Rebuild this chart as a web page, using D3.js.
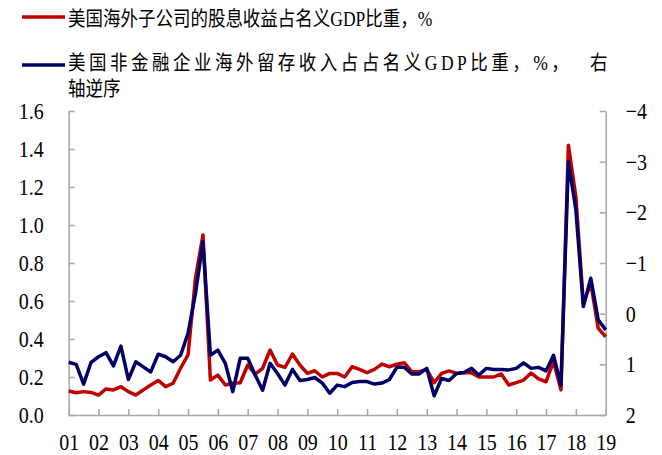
<!DOCTYPE html>
<html>
<head>
<meta charset="utf-8">
<script src="https://cdn.jsdelivr.net/npm/d3@7"></script>
<style>
  body { margin: 0; background: #fff; }
  text { font-family: "Liberation Serif", "Noto Sans CJK SC", serif; fill: #000; }
</style>
</head>
<body>
<div id="chart"></div>
<script>
// Quarterly data, 2001Q1 .. 2019Q1
const years = ["01","02","03","04","05","06","07","08","09","10","11","12","13","14","15","16","17","18","19"];
const quarters = years.flatMap((y, i) => i < years.length - 1 ? [y + "Q1", y + "Q2", y + "Q3", y + "Q4"] : [y + "Q1"]);

// left axis: dividend income of US foreign affiliates, % of GDP
const dividendShare = [
  0.126, 0.117, 0.123, 0.119, 0.105, 0.137, 0.132, 0.149, 0.123, 0.105, 0.132, 0.158,
  0.182, 0.149, 0.167, 0.246, 0.316, 0.72, 0.947, 0.184, 0.21, 0.158, 0.167, 0.17,
  0.263, 0.215, 0.246, 0.342, 0.263, 0.251, 0.321, 0.263, 0.219, 0.233, 0.20, 0.219,
  0.219, 0.20, 0.254, 0.24, 0.223, 0.24, 0.268, 0.254, 0.267, 0.275, 0.228, 0.228,
  0.24, 0.17, 0.219, 0.232, 0.219, 0.223, 0.223, 0.20, 0.20, 0.20, 0.216, 0.158,
  0.17, 0.184, 0.221, 0.19, 0.175, 0.281, 0.132, 1.42, 1.149, 0.588, 0.693, 0.456, 0.412
];
// right axis (reversed): retained earnings abroad of nonfinancial corporates, % of GDP
const retainedShare = [
  0.96, 1.0, 1.39, 0.96, 0.85, 0.77, 1.03, 0.64, 1.30, 0.95, 1.05, 1.15,
  0.80, 0.85, 0.95, 0.82, 0.39, -0.40, -1.42, 0.82, 0.72, 0.98, 1.54, 0.88,
  0.88, 1.21, 1.51, 0.98, 1.18, 1.41, 1.10, 1.32, 1.30, 1.26, 1.37, 1.57,
  1.41, 1.44, 1.36, 1.34, 1.34, 1.39, 1.37, 1.30, 1.06, 1.06, 1.19, 1.19,
  1.08, 1.62, 1.28, 1.32, 1.18, 1.16, 1.08, 1.21, 1.08, 1.10, 1.10, 1.11,
  1.08, 0.97, 1.08, 1.06, 1.13, 0.82, 1.41, -3.0, -2.05, -0.14, -0.70, 0.12, 0.32
];
const leftTicks = [0, 0.2, 0.4, 0.6, 0.8, 1.0, 1.2, 1.4, 1.6];
const rightTicks = [-4, -3, -2, -1, 0, 1, 2];
const legendLabels = [
  "美国海外子公司的股息收益占名义GDP比重，%",
  "美国非金融企业海外留存收入占占名义GDP比重，%，",
  "右",
  "轴逆序"
];

const width = 662, height = 455;
const plotLeft = 68.7, plotRight = 605.7, plotTop = 111, plotBottom = 415;
const stretch = 1.18; // text in the source is a bit taller than wide
const red = "#c00000", blue = "#000066", axisGrey = "#a6a6a6";

const svg = d3.select("#chart").append("svg")
  .attr("width", width)
  .attr("height", height);

const x = d3.scalePoint().domain(quarters).range([plotLeft, plotRight]);
const yL = d3.scaleLinear().domain([0, 1.6]).range([plotBottom, plotTop]);
const yR = d3.scaleLinear().domain([2, -4]).range([plotBottom, plotTop]);

// axes
function styleAxis(g) {
  g.select(".domain").attr("stroke", axisGrey).attr("stroke-width", 1.5);
  g.selectAll(".tick line").attr("stroke", axisGrey).attr("stroke-width", 1.5);
  g.selectAll("text").attr("font-size", 20)
    .attr("font-family", "'Liberation Serif', serif");
}

svg.append("g")
  .attr("transform", `translate(${plotLeft},0)`)
  .call(d3.axisLeft(yL).tickValues(leftTicks).tickFormat(d3.format(".1f"))
    .tickSizeInner(-6).tickSizeOuter(0).tickPadding(25))
  .call(styleAxis)
  .call(g => g.selectAll("text").attr("transform", `scale(1,${stretch})`));

svg.append("g")
  .attr("transform", `translate(${plotRight},0)`)
  .call(d3.axisRight(yR).tickValues(rightTicks).tickFormat(d3.format("d"))
    .tickSizeInner(-6).tickSizeOuter(0).tickPadding(20))
  .call(styleAxis)
  .call(g => g.selectAll("text").attr("transform", `scale(1,${stretch})`));

svg.append("g")
  .attr("transform", `translate(0,${plotBottom})`)
  .call(d3.axisBottom(x).tickValues(quarters.filter(q => q.endsWith("Q1")))
    .tickFormat(q => q.slice(0, 2))
    .tickSizeInner(-6).tickSizeOuter(0).tickPadding(18))
  .call(styleAxis)
  .call(g => g.selectAll("text")
    .attr("y", 18 / stretch)
    .attr("transform", `scale(1,${stretch})`));

// lines
const lineL = d3.line().x((d, i) => x(quarters[i])).y(d => yL(d));
const lineR = d3.line().x((d, i) => x(quarters[i])).y(d => yR(d));

svg.append("path")
  .datum(dividendShare)
  .attr("d", lineL)
  .attr("fill", "none")
  .attr("stroke", red)
  .attr("stroke-width", 3.5)
  .attr("stroke-linejoin", "round");

svg.append("path")
  .datum(retainedShare)
  .attr("d", lineR)
  .attr("fill", "none")
  .attr("stroke", blue)
  .attr("stroke-width", 3.5)
  .attr("stroke-linejoin", "round");

// legend
const legend = svg.append("g");
legend.append("line")
  .attr("x1", 22).attr("x2", 65).attr("y1", 17).attr("y2", 17)
  .attr("stroke", red).attr("stroke-width", 3.5);
legend.append("line")
  .attr("x1", 22).attr("x2", 65).attr("y1", 65).attr("y2", 65)
  .attr("stroke", blue).attr("stroke-width", 3.5);

const legendText = [
  { t: legendLabels[0], x: 68, y: 26, ls: 0 },
  { t: legendLabels[1], x: 68, y: 70, ls: 3.5 },
  { t: legendLabels[2], x: 590, y: 70, ls: 0 },
  { t: legendLabels[3], x: 68, y: 96, ls: 0 }
];
legend.selectAll("text")
  .data(legendText)
  .join("text")
  .attr("transform", d => `translate(${d.x},${d.y}) scale(1,${stretch})`)
  .attr("font-size", 17.5)
  .attr("letter-spacing", d => d.ls)
  .text(d => d.t);
</script>
</body>
</html>
